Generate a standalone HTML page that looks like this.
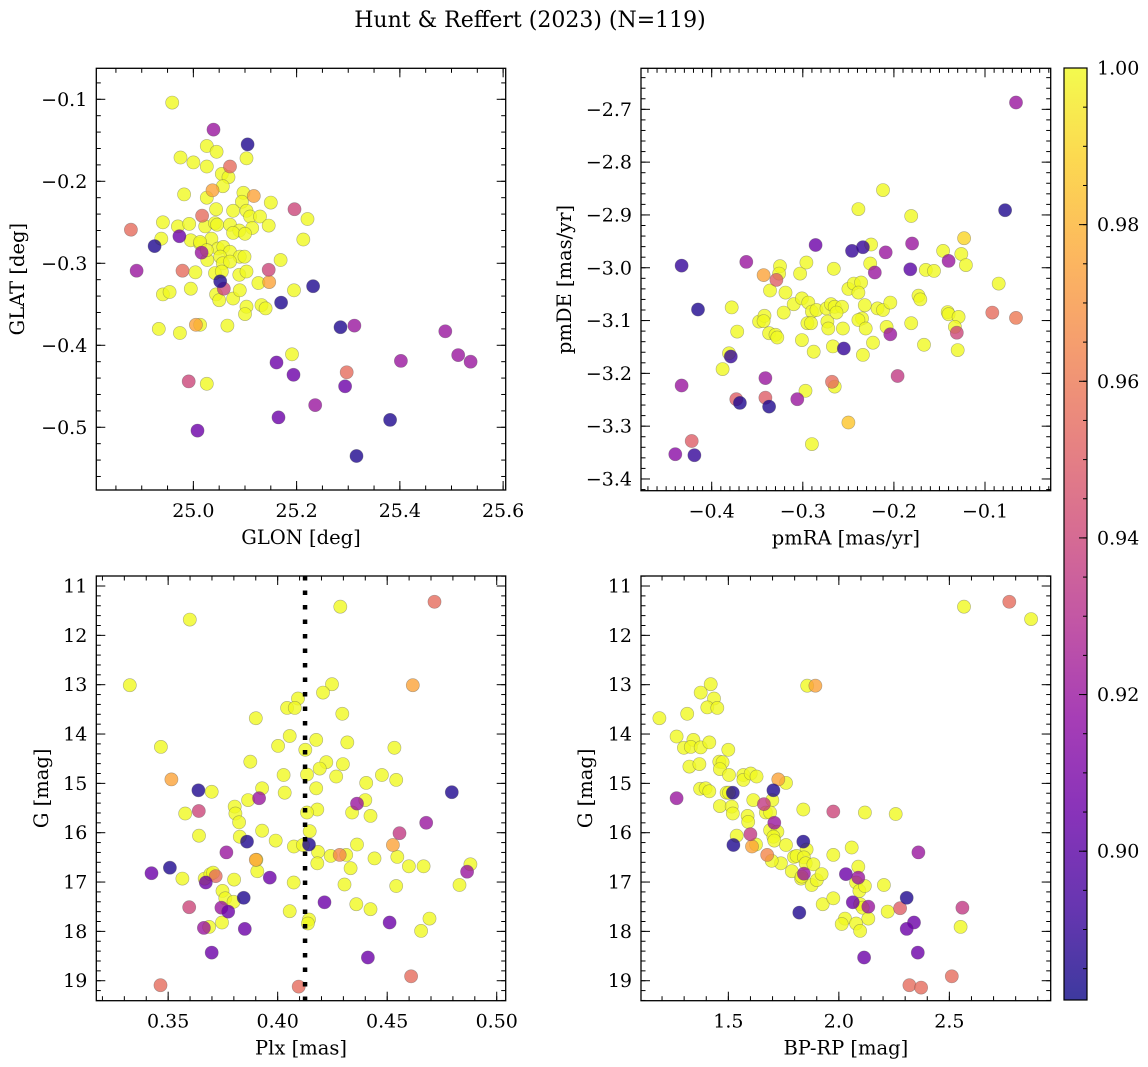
<!DOCTYPE html>
<html><head><meta charset="utf-8">
<style>
html,body{margin:0;padding:0;background:#fff;}
svg{display:block;font-family:"DejaVu Serif","Liberation Serif",serif;}
</style></head>
<body>
<svg id="fig" width="1148" height="1067" viewBox="0 0 1148 1067" xmlns="http://www.w3.org/2000/svg">
<text x="530" y="27" text-anchor="middle" font-size="22">Hunt &amp; Reffert (2023) (N=119)</text>
</svg>
<script>
// ---- Panel 1: GLON vs GLAT ----
const glon1 = [24.959,25.026,25.045,24.975,25.000,25.026,25.103,25.055,25.068,25.057,24.982,25.026,25.097,25.094,25.044,25.077,25.103,25.150,25.110,25.129,25.146,25.221,25.213,24.941,24.938,24.970,24.992,24.995,25.023,25.042,25.046,25.071,25.089,25.077,25.114,25.100,25.035,25.013,25.027,25.048,25.058,25.071,25.090,25.099,25.052,25.057,25.071,25.004,25.042,25.055,25.089,25.103,25.126,25.169,24.995,24.941,24.954,25.044,25.050,25.077,25.090,25.103,25.100,25.132,25.140,25.195,24.933,24.974,25.013,25.066,25.191,25.026,25.013,25.026,
25.037,25.117,25.147,25.005,
25.071,24.979,24.879,25.297,25.017,
25.146,25.196,25.059,24.991,
25.039,24.890,25.016,25.312,25.488,25.513,25.537,25.402,25.236,
24.973,25.161,25.194,25.294,25.165,25.008,
25.105,24.925,25.232,25.170,25.285,25.381,25.316,25.052];
const glat1 = [-0.104,-0.157,-0.164,-0.171,-0.177,-0.182,-0.172,-0.191,-0.195,-0.206,-0.216,-0.220,-0.214,-0.225,-0.234,-0.236,-0.236,-0.226,-0.243,-0.243,-0.254,-0.246,-0.271,-0.250,-0.270,-0.255,-0.252,-0.272,-0.255,-0.251,-0.253,-0.253,-0.260,-0.263,-0.257,-0.264,-0.270,-0.276,-0.296,-0.282,-0.280,-0.286,-0.292,-0.292,-0.292,-0.300,-0.298,-0.311,-0.312,-0.310,-0.314,-0.310,-0.324,-0.296,-0.331,-0.338,-0.335,-0.338,-0.345,-0.343,-0.333,-0.353,-0.362,-0.351,-0.355,-0.333,-0.380,-0.385,-0.375,-0.376,-0.411,-0.447,-0.274,-0.284,
-0.211,-0.218,-0.323,-0.375,
-0.182,-0.309,-0.259,-0.433,-0.242,
-0.308,-0.234,-0.331,-0.444,
-0.137,-0.309,-0.287,-0.376,-0.383,-0.412,-0.420,-0.419,-0.473,
-0.267,-0.421,-0.436,-0.450,-0.488,-0.504,
-0.155,-0.279,-0.328,-0.348,-0.378,-0.491,-0.535,-0.322];
const prob1 = [1,1,1,1,1,1,1,1,1,1,1,1,1,1,1,1,1,1,1,1,1,1,1,1,1,1,1,1,1,1,1,1,1,1,1,1,1,1,1,1,1,1,1,1,1,1,1,1,1,1,1,1,1,1,1,1,1,1,1,1,1,1,1,1,1,1,1,1,1,1,1,1,1,1,
0.975,0.975,0.975,0.975,
0.955,0.955,0.955,0.955,0.955,
0.94,0.94,0.94,0.94,
0.92,0.92,0.92,0.92,0.92,0.92,0.92,0.92,0.92,
0.905,0.905,0.905,0.905,0.905,0.905,
0.885,0.885,0.885,0.885,0.885,0.885,0.885,0.885];

// ---- Panel 2: pmRA vs pmDE ----
const pmra2 = [-0.212,-0.239,-0.181,-0.123,-0.225,-0.226,-0.146,-0.126,-0.121,-0.165,-0.156,-0.085,-0.266,-0.303,-0.296,-0.325,-0.326,-0.319,-0.336,-0.310,-0.301,-0.294,-0.321,-0.290,-0.285,-0.274,-0.269,-0.265,-0.257,-0.250,-0.244,-0.236,-0.239,-0.232,-0.235,-0.239,-0.231,-0.223,-0.234,-0.218,-0.212,-0.204,-0.208,-0.173,-0.171,-0.181,-0.167,-0.141,-0.140,-0.129,-0.133,-0.130,-0.348,-0.342,-0.343,-0.337,-0.330,-0.328,-0.372,-0.378,-0.381,-0.388,-0.301,-0.295,-0.291,-0.288,-0.267,-0.273,-0.272,-0.256,-0.263,-0.265,-0.297,-0.290,
-0.343,-0.250,
-0.092,-0.066,-0.422,-0.373,-0.341,-0.268,-0.329,
-0.131,-0.196,
-0.066,-0.362,-0.221,-0.209,-0.180,-0.140,-0.204,-0.341,-0.433,-0.440,-0.306,
-0.286,
-0.078,-0.433,-0.415,-0.246,-0.234,-0.182,-0.255,-0.379,-0.369,-0.337,-0.419];
const pmde2 = [-2.853,-2.889,-2.902,-2.944,-2.956,-2.992,-2.968,-2.974,-2.995,-3.004,-3.006,-3.030,-3.002,-3.011,-2.990,-2.997,-3.011,-3.047,-3.043,-3.069,-3.058,-3.066,-3.085,-3.083,-3.080,-3.077,-3.069,-3.074,-3.074,-3.040,-3.030,-3.028,-3.047,-3.071,-3.096,-3.099,-3.115,-3.142,-3.165,-3.077,-3.080,-3.066,-3.112,-3.053,-3.060,-3.105,-3.146,-3.084,-3.088,-3.093,-3.112,-3.156,-3.102,-3.091,-3.101,-3.124,-3.127,-3.132,-3.121,-3.075,-3.162,-3.192,-3.137,-3.105,-3.105,-3.159,-3.149,-3.102,-3.115,-3.115,-3.085,-3.225,-3.233,-3.334,
-3.014,-3.293,
-3.085,-3.095,-3.328,-3.249,-3.246,-3.216,-3.023,
-3.123,-3.205,
-2.687,-2.989,-3.009,-2.971,-2.954,-2.987,-3.126,-3.209,-3.223,-3.353,-3.249,
-2.957,
-2.891,-2.996,-3.079,-2.968,-2.961,-3.003,-3.153,-3.168,-3.256,-3.263,-3.355];
const prob2 = [1,1,1,0.99,1,1,1,1,1,1,1,1,1,1,1,1,1,1,1,1,1,1,1,1,1,1,1,1,1,1,1,1,1,1,1,1,1,1,1,1,1,1,1,1,1,1,1,1,1,1,1,1,1,1,1,1,1,1,1,1,1,1,1,1,1,1,1,1,1,1,1,1,1,1,
0.975,0.985,
0.955,0.96,0.95,0.95,0.95,0.955,0.95,
0.94,0.935,
0.92,0.92,0.92,0.92,0.92,0.92,0.92,0.92,0.92,0.915,0.92,
0.905,
0.885,0.89,0.885,0.89,0.89,0.9,0.89,0.89,0.885,0.885,0.89];

// ---- Panel 3: Plx vs G ----
const plx3 = [0.3599,0.3325,0.4286,0.3467,0.4248,0.4207,0.4093,0.4043,0.4078,0.3900,0.4295,0.4055,0.4002,0.4176,0.4318,0.4126,0.3875,0.4222,0.4192,0.4298,0.4267,0.4134,0.4027,0.4032,0.4176,0.4404,0.4476,0.4541,0.4533,0.3699,0.3578,0.3641,0.3865,0.3929,0.3804,0.3807,0.3824,0.3827,0.3929,0.3991,0.4181,0.4134,0.4146,0.4074,0.4115,0.4184,0.4181,0.4242,0.4313,0.4362,0.4333,0.4400,0.4340,0.4424,0.4442,0.4546,0.4599,0.4666,0.4880,0.4830,0.4541,0.4305,0.4073,0.3907,0.3903,0.3565,0.3667,0.3693,0.3705,0.3748,0.3761,0.3799,0.3801,0.3746,0.3687,0.4055,0.4143,0.4138,0.4359,0.4424,0.4655,0.4693,
0.3515,0.4617,0.4526,0.3900,0.4283,
0.4716,0.3465,0.4096,0.4609,0.3717,
0.3640,0.3596,0.4556,
0.3915,0.3766,0.4678,0.4865,0.3743,0.3663,0.4362,
0.3424,0.3672,0.3964,0.3774,0.3850,0.4214,0.4511,0.4412,0.3699,
0.3638,0.3508,0.3860,0.3845,0.4795,0.4143];
const gmag3 = [11.68,13.01,11.42,14.26,12.99,13.16,13.28,13.47,13.47,13.68,13.59,14.04,14.24,14.12,14.17,14.32,14.56,14.57,14.70,14.61,14.86,14.82,14.83,15.19,15.10,14.99,14.83,14.93,14.28,15.17,15.61,16.06,15.34,15.10,15.47,15.61,15.79,16.08,15.96,16.16,15.53,15.59,15.97,16.28,16.25,16.39,16.62,16.47,16.45,16.24,16.72,15.34,15.59,15.66,16.52,16.49,16.68,16.68,16.64,17.06,17.08,17.05,17.01,16.78,16.55,16.93,16.93,16.84,16.81,17.18,17.33,17.40,16.95,17.82,17.91,17.59,17.76,17.84,17.45,17.55,17.99,17.74,
14.92,13.01,16.25,16.55,16.45,
11.32,19.09,19.12,18.91,16.88,
15.56,17.51,16.01,
15.30,16.40,15.80,16.79,17.52,17.93,15.41,
16.82,17.01,16.91,17.60,17.95,17.41,17.82,18.53,18.43,
15.14,16.71,16.18,17.32,15.18,16.24];
const prob3 = [1,1,1,1,1,1,1,1,1,1,1,1,1,1,1,1,1,1,1,1,1,1,1,1,1,1,1,1,1,1,1,1,1,1,1,1,1,1,1,1,1,1,1,1,1,1,1,1,1,1,1,1,1,1,1,1,1,1,1,1,1,1,1,1,1,1,1,1,1,1,1,1,1,1,1,1,1,1,1,1,1,1,
0.975,0.975,0.975,0.975,0.965,
0.955,0.955,0.955,0.955,0.955,
0.94,0.94,0.935,
0.92,0.92,0.92,0.92,0.92,0.92,0.92,
0.905,0.905,0.905,0.905,0.905,0.905,0.905,0.905,0.905,
0.885,0.885,0.885,0.885,0.885,0.885];

// ---- Panel 4: BP-RP vs G ----
const bprp4 = [2.566,2.870,1.857,1.420,1.375,1.435,1.405,1.450,1.188,1.314,1.266,1.299,1.342,1.330,1.375,1.414,1.500,1.459,1.474,1.462,1.324,1.369,1.503,1.568,1.568,1.601,1.628,1.761,1.372,1.397,1.414,1.492,1.613,1.699,1.462,1.515,1.520,1.670,1.689,1.587,1.590,1.839,2.118,2.257,1.538,1.625,1.689,1.722,1.704,1.708,1.761,1.854,1.797,1.809,1.842,1.738,1.696,1.787,1.829,1.850,1.885,1.877,1.900,1.922,1.975,2.058,2.088,2.078,2.093,2.118,2.204,2.221,2.096,2.108,2.133,2.028,2.013,2.078,2.096,1.927,1.975,2.551,1.503,1.832,
1.726,1.894,1.676,1.607,
2.771,2.319,2.372,2.511,2.277,
1.975,1.600,1.661,2.559,
1.266,1.708,2.360,2.088,2.133,1.842,
2.032,2.063,2.340,2.307,2.114,2.357,
1.520,1.704,1.523,1.839,1.821,2.307];
const gmag4 = [11.42,11.67,13.02,12.99,13.16,13.28,13.46,13.47,13.68,13.59,14.05,14.28,14.12,14.26,14.27,14.17,14.32,14.56,14.57,14.71,14.66,14.61,14.83,14.83,14.93,14.80,14.86,14.99,15.11,15.10,15.16,15.19,15.34,15.34,15.46,15.47,15.61,15.59,15.59,15.66,15.78,15.53,15.59,15.62,16.06,16.24,15.95,15.98,16.08,16.16,16.25,16.34,16.49,16.47,16.50,16.62,16.57,16.78,16.93,16.62,16.64,17.06,16.96,16.84,16.45,16.30,16.69,17.01,17.18,17.08,17.06,17.60,17.45,17.52,17.74,17.74,17.85,17.84,17.99,17.45,17.33,17.91,15.19,16.89,
14.92,13.02,16.45,16.28,
11.32,19.09,19.14,18.91,17.53,
15.57,16.03,15.42,17.52,
15.30,15.80,16.40,16.91,17.50,16.83,
16.84,17.41,17.82,17.95,18.53,18.43,
15.19,15.14,16.25,16.18,17.62,17.32];
const prob4 = [1,1,1,1,1,1,1,1,1,1,1,1,1,1,1,1,1,1,1,1,1,1,1,1,1,1,1,1,1,1,1,1,1,1,1,1,1,1,1,1,1,1,1,1,1,1,1,1,1,1,1,1,1,1,1,1,1,1,1,1,1,1,1,1,1,1,1,1,1,1,1,1,1,1,1,1,1,1,1,1,1,1,1,1,
0.975,0.975,0.965,0.975,
0.955,0.955,0.955,0.955,0.95,
0.94,0.935,0.935,0.935,
0.92,0.92,0.92,0.92,0.92,0.92,
0.905,0.905,0.905,0.905,0.905,0.905,
0.885,0.885,0.885,0.885,0.885,0.885];

const vmin = 0.881, vmax = 1.0;
const cbTicks = [0.90,0.92,0.94,0.96,0.98,1.00];

const NS = "http://www.w3.org/2000/svg";
const svg = document.getElementById('fig');
const plasma = ["#0d0887","#41049d","#6a00a8","#8f0da4","#b12a90","#cc4778","#e16462","#f2844b","#fca636","#fcce25","#f0f921"];
const TF = 19, LF = 19.5;
function hex(h){return [parseInt(h.substr(1,2),16),parseInt(h.substr(3,2),16),parseInt(h.substr(5,2),16)];}
function cmap(v){
  let t=(v-vmin)/(vmax-vmin); t=Math.max(0,Math.min(1,t));
  const f=t*10, i=Math.min(9,Math.floor(f)), r=f-i;
  const a=hex(plasma[i]), b=hex(plasma[i+1]);
  return 'rgb('+a.map((c,k)=>Math.round(c+(b[k]-c)*r)).join(',')+')';
}
function el(tag, attrs, parent){
  const e=document.createElementNS(NS,tag);
  for(const k in attrs) e.setAttribute(k,attrs[k]);
  (parent||svg).appendChild(e); return e;
}
function fmt(v,d){const s=Math.abs(v).toFixed(d); return (v<-1e-9?'\u2212':'')+s;}

function panel(cfg){
  const g=el('g',{});
  
  
  const L=cfg.box[0], R=cfg.box[1], T=cfg.box[2], B=cfg.box[3];
  const sx=v=>L+(v-cfg.xd[0])/(cfg.xd[1]-cfg.xd[0])*(R-L);
  const sy=v=>T+(v-cfg.yd[0])/(cfg.yd[1]-cfg.yd[0])*(B-T);
  const cid='clip'+cfg.name;
  const cp=el('clipPath',{id:cid},g); el('rect',{x:L,y:T,width:R-L,height:B-T},cp);
  const pts=el('g',{'clip-path':'url(#'+cid+')'},g);
  
  
  for(let i=0;i<cfg.x.length;i++){
    const c=el('circle',{cx:sx(cfg.x[i]).toFixed(1),cy:sy(cfg.y[i]).toFixed(1),r:6.6,fill:cmap(cfg.p[i]),'fill-opacity':0.8,stroke:'#555','stroke-opacity':0.45,'stroke-width':0.6},pts);
    
    
  }
  if(cfg.vline!==undefined){
    const vl=el('line',{x1:sx(cfg.vline),x2:sx(cfg.vline),y1:T,y2:B,stroke:'#000','stroke-width':4.5,'stroke-dasharray':'4.5 10'},g);
    
    
  }
  const tk=el('g',{stroke:'#000','stroke-width':1},g);
  
  
  const xlo=Math.min(...cfg.xd), xhi=Math.max(...cfg.xd), ylo=Math.min(...cfg.yd), yhi=Math.max(...cfg.yd);
  for(let v=Math.ceil(xlo/cfg.xmin-1e-6)*cfg.xmin; v<=xhi+1e-9; v+=cfg.xmin){
    const X=sx(v); el('line',{x1:X,x2:X,y1:B,y2:B-4.5},tk); el('line',{x1:X,x2:X,y1:T,y2:T+4.5},tk);
  }
  for(let v=Math.ceil(ylo/cfg.ymin-1e-6)*cfg.ymin; v<=yhi+1e-9; v+=cfg.ymin){
    const Y=sy(v); el('line',{x1:L,x2:L+4.5,y1:Y,y2:Y},tk); el('line',{x1:R,x2:R-4.5,y1:Y,y2:Y},tk);
  }
  cfg.xt.forEach(v=>{
    const X=sx(v); el('line',{x1:X,x2:X,y1:B,y2:B-9},tk); el('line',{x1:X,x2:X,y1:T,y2:T+9},tk);
    const t=el('text',{x:X,y:B+27,'text-anchor':'middle','font-size':TF},g); t.textContent=fmt(v,cfg.xdec);
    
    
  });
  cfg.yt.forEach(v=>{
    const Y=sy(v); el('line',{x1:L,x2:L+9,y1:Y,y2:Y},tk); el('line',{x1:R,x2:R-9,y1:Y,y2:Y},tk);
    const t=el('text',{x:L-9,y:Y+6.5,'text-anchor':'end','font-size':TF},g); t.textContent=fmt(v,cfg.ydec);
    
    
  });
  const box=el('rect',{x:L,y:T,width:R-L,height:B-T,fill:'none',stroke:'#000','stroke-width':1.3},g);
  
  
  const xl=el('text',{x:(L+R)/2,y:B+54,'text-anchor':'middle','font-size':LF},g); xl.textContent=cfg.xlabel;
  
  
  const cy=(T+B)/2;
  const yl=el('text',{x:cfg.ylx,y:cy,'text-anchor':'middle','font-size':LF,transform:'rotate(-90 '+cfg.ylx+' '+cy+')'},g); yl.textContent=cfg.ylabel;
  
  
}

panel({name:'glon-glat-panel',box:[96.3,505.7,68.3,490],xd:[24.812,25.605],yd:[-0.0622,-0.5765],x:glon1,y:glat1,p:prob1,
  xt:[25.0,25.2,25.4,25.6],xmin:0.05,xdec:1,yt:[-0.1,-0.2,-0.3,-0.4,-0.5],ymin:0.02,ydec:1,xlabel:'GLON [deg]',ylabel:'GLAT [deg]',ylx:24});
panel({name:'pm-panel',box:[641,1050.7,68.3,490.7],xd:[-0.4776,-0.0279],yd:[-2.6223,-3.4222],x:pmra2,y:pmde2,p:prob2,
  xt:[-0.4,-0.3,-0.2,-0.1],xmin:0.01,xdec:1,yt:[-2.7,-2.8,-2.9,-3.0,-3.1,-3.2,-3.3,-3.4],ymin:0.02,ydec:1,xlabel:'pmRA [mas/yr]',ylabel:'pmDE [mas/yr]',ylx:571});
panel({name:'plx-g-panel',box:[96.3,505.7,576,1000.7],xd:[0.3172,0.5041],yd:[10.797,19.405],x:plx3,y:gmag3,p:prob3,vline:0.4125,
  xt:[0.35,0.40,0.45,0.50],xmin:0.01,xdec:2,yt:[11,12,13,14,15,16,17,18,19],ymin:0.2,ydec:0,xlabel:'Plx [mas]',ylabel:'G [mag]',ylx:48});
panel({name:'cmd-panel',box:[641,1050.7,576,1000.7],xd:[1.1048,2.9585],yd:[10.797,19.405],x:bprp4,y:gmag4,p:prob4,
  xt:[1.5,2.0,2.5],xmin:0.1,xdec:1,yt:[11,12,13,14,15,16,17,18,19],ymin:0.2,ydec:0,xlabel:'BP-RP [mag]',ylabel:'G [mag]',ylx:592});

// ---- Colorbar ----
(function(){
  const L=1064, R=1087, T=68, B=1000;
  const cb=el('g',{});
  
  
  const defs=el('defs',{},cb);
  const lg=el('linearGradient',{id:'cbgrad',x1:0,y1:1,x2:0,y2:0},defs);
  plasma.forEach((c,i)=>el('stop',{offset:i/10,'stop-color':c,'stop-opacity':0.8},lg));
  el('rect',{x:L,y:T,width:R-L,height:B-T,fill:'url(#cbgrad)'},cb);
  const sy=v=>B-(v-vmin)/(vmax-vmin)*(B-T);
  const tk=el('g',{stroke:'#000','stroke-width':1},cb);
  for(let v=0.885; v<=1.0001; v+=0.005){const Y=sy(v); el('line',{x1:R,x2:R-4,y1:Y,y2:Y},tk);}
  cbTicks.forEach(v=>{
    const Y=sy(v); el('line',{x1:R,x2:R-8,y1:Y,y2:Y},tk);
    const t=el('text',{x:R+10,y:Y+6.5,'font-size':TF},cb); t.textContent=v.toFixed(2);
    
    
  });
  el('rect',{x:L,y:T,width:R-L,height:B-T,fill:'none',stroke:'#000','stroke-width':1.2},cb);
})();
</script>
</body></html>
